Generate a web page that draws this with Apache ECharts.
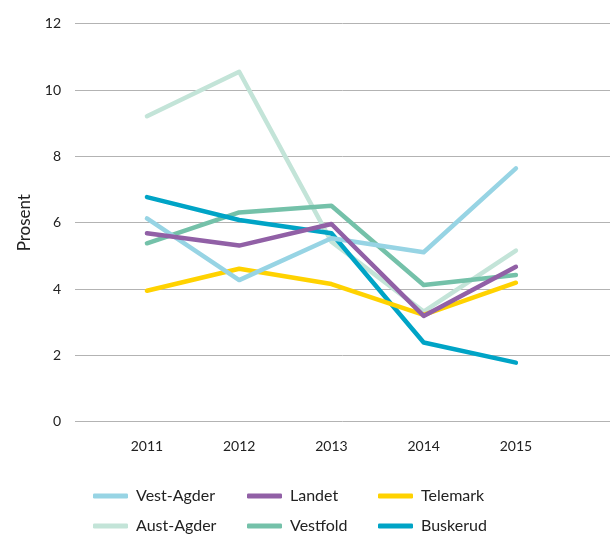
<!doctype html>
<html>
	<head>
		<meta charset="UTF-8">
		<title></title>
		<script src="https://cdn.jsdelivr.net/npm/echarts@6/dist/echarts.min.js"></script>
		<style type="text/css">
			html,body{margin:0;padding:0;background:#fff;}
			#main{width:610px;height:534px;}
		</style>
	</head>
	<body>
		<div id="main"></div>
		<script type="text/javascript">
			// årstall og verdier (prosent)
			var years=[2011,2012,2013,2014,2015];
			var vestAgder=[6.13,4.27,5.53,5.11,7.64];
			var landet=[5.68,5.31,5.96,3.19,4.67];
			var telemark=[3.95,4.61,4.15,3.22,4.19];
			var austAgder=[9.21,10.55,5.43,3.32,5.16];
			var vestfold=[5.38,6.31,6.51,4.12,4.42];
			var buskerud=[6.77,6.08,5.68,2.39,1.78];
			var yTicks=[0,2,4,6,8,10,12];

			var font='Lato';
			function pairs(arr){
				return arr.map(function(v,i){return [years[i],v];});
			}
			function line(name,arr,color){
				return {
					name:name,
					type:'line',
					data:pairs(arr),
					symbol:'none',
					lineStyle:{color:color,width:4.5,cap:'round',join:'round'},
					itemStyle:{color:color}
				};
			}
			var legendBase={
				orient:'vertical',
				top:488,
				padding:0,
				itemWidth:35,
				itemHeight:5,
				itemGap:14,
				icon:'roundRect',
				textStyle:{fontFamily:font,fontSize:16,color:'#222',padding:[0,0,0,3]}
			};
			// en legend per kolonne
			function legend(left,names){
				var l=Object.assign({},legendBase);
				l.left=left;
				l.data=names;
				return l;
			}

			var myChart=echarts.init(document.getElementById('main'));
			var option={
				animation:false,
				grid:{left:75,right:0,top:23.7,bottom:112.3,containLabel:false},
				legend:[
					legend(93,['Vest-Agder','Aust-Agder']),
					legend(247,['Landet','Vestfold']),
					legend(378,['Telemark','Buskerud'])
				],
				xAxis:{
					type:'value',
					min:2010.22,
					max:2016.02,
					axisLine:{show:false},
					axisTick:{show:false},
					splitLine:{show:false},
					axisLabel:{
						customValues:years,
						formatter:function(v){return String(v);},
						margin:18,
						fontFamily:font,
						fontSize:14,
						color:'#222'
					}
				},
				yAxis:{
					type:'value',
					min:yTicks[0],
					max:yTicks[yTicks.length-1],
					interval:2,
					name:'Prosent',
					nameLocation:'middle',
					nameGap:42,
					nameTextStyle:{fontFamily:font,fontSize:17,color:'#222'},
					axisLine:{show:false},
					axisTick:{show:false},
					axisLabel:{margin:14,fontFamily:font,fontSize:14,color:'#222'},
					splitLine:{lineStyle:{color:'#b3b3b3',width:1}}
				},
				series:[
					line('Aust-Agder',austAgder,'#c3e4d8'),
					line('Vestfold',vestfold,'#74c1a9'),
					line('Buskerud',buskerud,'#00a4c6'),
					line('Telemark',telemark,'#ffd200'),
					line('Vest-Agder',vestAgder,'#97d4e4'),
					line('Landet',landet,'#9160a6')
				]
			};
			myChart.setOption(option);
		</script>
	</body>
</html>
